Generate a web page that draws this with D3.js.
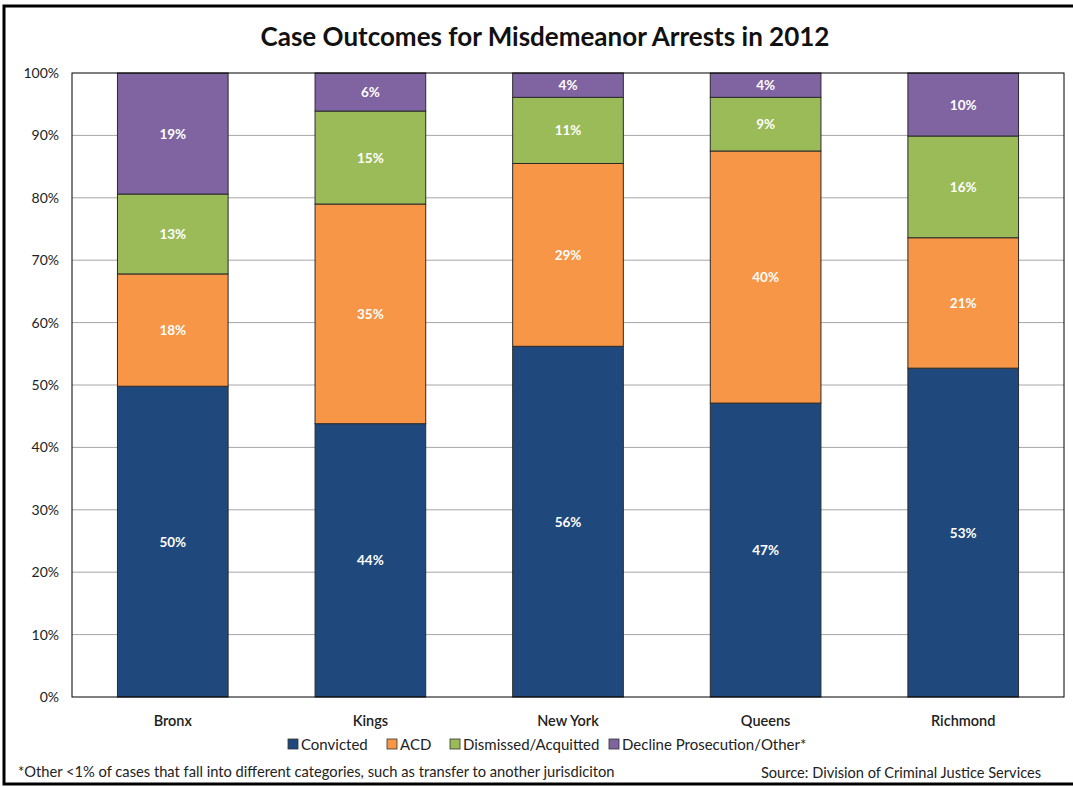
<!DOCTYPE html>
<html>
<head>
<meta charset="utf-8">
<script src="https://cdn.jsdelivr.net/npm/d3@7"></script>
<style>
body { margin:0; background:#fff; }
text { font-family: Lato, "Open Sans", sans-serif; }
</style>
</head>
<body>
<div id="chart"></div>
<script>
// data
const counties = ['Bronx','Kings','New York','Queens','Richmond'];
const series = ['Convicted','ACD','Dismissed/Acquitted','Decline Prosecution/Other*'];
const convicted = [49.8, 43.8, 56.2, 47.1, 52.7];
const acd = [18.0, 35.2, 29.3, 40.4, 20.9];
const dismissed = [12.8, 14.9, 10.6, 8.6, 16.3];
const decline = [19.4, 6.1, 3.9, 3.9, 10.1];
const yTicks = [0,10,20,30,40,50,60,70,80,90,100];
const colors = ['#1F497D','#F79646','#9BBB59','#8064A2'];

const W = 1073, H = 787;
const margin = {top:73, right:9, bottom:90, left:72};
const width = W - margin.left - margin.right;
const height = H - margin.top - margin.bottom;

const svg = d3.select('#chart').append('svg')
  .attr('width', W).attr('height', H);

// outer frame
svg.append('rect')
  .attr('x', 4).attr('y', 6).attr('width', W + 10).attr('height', H - 9)
  .attr('fill', '#fff').attr('stroke', '#000').attr('stroke-width', 3);

svg.append('text')
  .attr('x', 545).attr('y', 46)
  .attr('text-anchor', 'middle')
  .style('font-size', '26px').style('font-weight', 'bold').attr('fill', '#111')
  .text('Case Outcomes for Misdemeanor Arrests in 2012');

const g = svg.append('g').attr('transform', `translate(${margin.left},${margin.top})`);

const x = d3.scaleBand().domain(counties).range([0, width]).paddingInner(0.44).paddingOuter(0.23);
const y = d3.scaleLinear().domain([0, 100]).range([height, 0]);

// gridlines
g.selectAll('.grid')
  .data(yTicks.slice(1, -1))
  .join('line')
  .attr('x1', 0).attr('x2', width)
  .attr('y1', d => y(d)).attr('y2', d => y(d))
  .attr('stroke', '#a6a6a6').attr('stroke-width', 1);

// stack
const rows = counties.map((c, i) => ({
  county: c,
  [series[0]]: convicted[i],
  [series[1]]: acd[i],
  [series[2]]: dismissed[i],
  [series[3]]: decline[i]
}));
const stacked = d3.stack().keys(series)(rows);

const layers = g.selectAll('.layer')
  .data(stacked)
  .join('g')
  .attr('fill', (d, i) => colors[i]);

layers.selectAll('rect')
  .data(d => d)
  .join('rect')
  .attr('x', d => x(d.data.county))
  .attr('width', x.bandwidth())
  .attr('y', d => y(d[1]))
  .attr('height', d => y(d[0]) - y(d[1]))
  .attr('stroke', '#2b2b2b').attr('stroke-width', 1);

layers.selectAll('text')
  .data(d => d)
  .join('text')
  .attr('x', d => x(d.data.county) + x.bandwidth() / 2)
  .attr('y', d => y((d[0] + d[1]) / 2) + 5)
  .attr('text-anchor', 'middle')
  .attr('fill', '#fff')
  .style('font-size', '13.5px').style('font-weight', 'bold')
  .text(d => Math.round(d[1] - d[0]) + '%');

// plot border
g.append('rect')
  .attr('width', width).attr('height', height)
  .attr('fill', 'none').attr('stroke', '#000').attr('stroke-width', 1);

// y axis
g.append('g')
  .call(d3.axisLeft(y).tickValues(yTicks).tickFormat(d => d + '%').tickSize(0).tickPadding(13))
  .call(a => a.select('.domain').remove())
  .selectAll('text')
  .style('font-size', '14px').attr('fill', '#222');

// x axis
g.append('g')
  .attr('transform', `translate(0,${height})`)
  .call(d3.axisBottom(x).tickSize(0).tickPadding(19))
  .call(a => a.select('.domain').remove())
  .selectAll('text')
  .style('font-size', '14.5px').style('font-weight', '600').attr('fill', '#222');

// legend
const legendX = [288, 387, 450, 609];
const legend = svg.append('g').attr('transform', 'translate(0,750)');
series.forEach((s, i) => {
  legend.append('rect')
    .attr('x', legendX[i]).attr('y', -11).attr('width', 10).attr('height', 10)
    .attr('fill', colors[i]).attr('stroke', '#333').attr('stroke-width', 0.8);
  legend.append('text')
    .attr('x', legendX[i] + 13).attr('y', 0)
    .style('font-size', '15px').attr('fill', '#222')
    .text(s);
});

svg.append('text')
  .attr('x', 18).attr('y', 777)
  .style('font-size', '14.7px').attr('fill', '#222')
  .text('*Other <1% of cases that fall into different categories, such as transfer to another jurisdiciton');

svg.append('text')
  .attr('x', 1041).attr('y', 778)
  .attr('text-anchor', 'end')
  .style('font-size', '14.6px').attr('fill', '#222')
  .text('Source: Division of Criminal Justice Services');
</script>
</body>
</html>
